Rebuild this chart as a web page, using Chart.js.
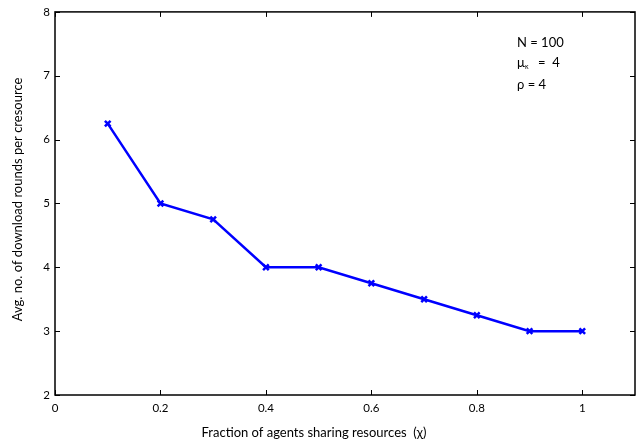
<!DOCTYPE html>
<html>
<head>
<meta charset="utf-8">
<script src="https://cdn.jsdelivr.net/npm/chart.js@4/dist/chart.umd.min.js"></script>
<style>
html,body{margin:0;padding:0;background:#fff;}
#wrap{width:643px;height:446px;}
</style>
</head>
<body>
<div id="wrap"><canvas id="c" width="643" height="446"></canvas></div>
<script>
const xValues = [0.1, 0.2, 0.3, 0.4, 0.5, 0.6, 0.7, 0.8, 0.9, 1.0];
const yValues = [6.25, 5, 4.75, 4, 4, 3.75, 3.5, 3.25, 3, 3];
const xTicks = [0, 0.2, 0.4, 0.6, 0.8, 1];
const yTicks = [2, 3, 4, 5, 6, 7, 8];
const xTitle = 'Fraction of agents sharing resources  (χ)';
const yTitle = 'Avg. no. of download rounds per cresource';
const annotationLines = ['N = 100', 'μ', 'ρ = 4'];

const FONT = 'Lato, "Liberation Sans", sans-serif';

const framePlugin = {
  id: 'frame',
  afterDatasetsDraw(chart) {
    const {ctx, chartArea: a, scales: {x, y}} = chart;
    ctx.save();
    ctx.strokeStyle = '#000';
    ctx.lineWidth = 1;
    const L = 5;
    ctx.beginPath();
    xTicks.forEach(v => {
      const px = Math.round(x.getPixelForValue(v)) + 0.5;
      ctx.moveTo(px, a.bottom); ctx.lineTo(px, a.bottom - L);
      ctx.moveTo(px, a.top); ctx.lineTo(px, a.top + L);
    });
    yTicks.forEach(v => {
      const py = Math.round(y.getPixelForValue(v)) + 0.5;
      ctx.moveTo(a.left, py); ctx.lineTo(a.left + L, py);
      ctx.moveTo(a.right, py); ctx.lineTo(a.right - L, py);
    });
    ctx.stroke();
    ctx.lineWidth = 1.5;
    ctx.strokeRect(a.left, a.top, a.right - a.left, a.bottom - a.top);
    ctx.fillStyle = '#000';
    ctx.textBaseline = 'middle';
    // x axis title (offset left as in the reference)
    ctx.font = '13px ' + FONT;
    ctx.textAlign = 'center';
    ctx.fillText(xTitle, 314, 433);
    // y axis title
    ctx.save();
    ctx.translate(18, (a.top + a.bottom) / 2 - 4);
    ctx.rotate(-Math.PI / 2);
    ctx.fillText(yTitle, 0, 0);
    ctx.restore();
    // annotation
    ctx.font = '13px ' + FONT;
    ctx.textAlign = 'left';
    const ax = a.left + 462;
    ctx.fillText(annotationLines[0], ax, 43);
    ctx.fillText(annotationLines[1], ax, 63);
    ctx.font = '7px ' + FONT;
    ctx.fillText('κ', ax + 8, 67);
    ctx.font = '13px ' + FONT;
    ctx.fillText('=  4', ax + 21, 63);
    ctx.fillText(annotationLines[2], ax, 85);
    ctx.restore();
  }
};

new Chart(document.getElementById('c'), {
  type: 'line',
  data: {
    datasets: [{
      data: xValues.map((v, i) => ({x: v, y: yValues[i]})),
      borderColor: '#0000ff',
      backgroundColor: '#0000ff',
      borderWidth: 2.5,
      pointStyle: 'crossRot',
      pointRadius: 4,
      pointBorderWidth: 2.5,
      pointBorderColor: '#0000ff',
      tension: 0,
      fill: false
    }]
  },
  options: {
    responsive: false,
    animation: false,
    layout: {padding: {top: 8, right: 8, left: 0, bottom: 0}},
    plugins: {legend: {display: false}, tooltip: {enabled: false}},
    scales: {
      x: {
        type: 'linear',
        min: 0, max: 1.1,
        afterBuildTicks(s) { s.ticks = xTicks.map(v => ({value: v})); },
        afterFit(s) { s.height = 51; },
        grid: {display: false, drawTicks: false},
        border: {display: false},
        ticks: {color: '#000', font: {size: 11.5, family: FONT}, padding: 6,
          callback: v => String(v)},
        title: {display: false}
      },
      y: {
        type: 'linear',
        min: 2, max: 8,
        afterBuildTicks(s) { s.ticks = yTicks.map(v => ({value: v})); },
        afterFit(s) { s.width = 55; },
        grid: {display: false, drawTicks: false},
        border: {display: false},
        ticks: {color: '#000', font: {size: 11.5, family: FONT}, padding: 5},
        title: {display: false}
      }
    }
  },
  plugins: [framePlugin]
});
</script>
</body>
</html>
